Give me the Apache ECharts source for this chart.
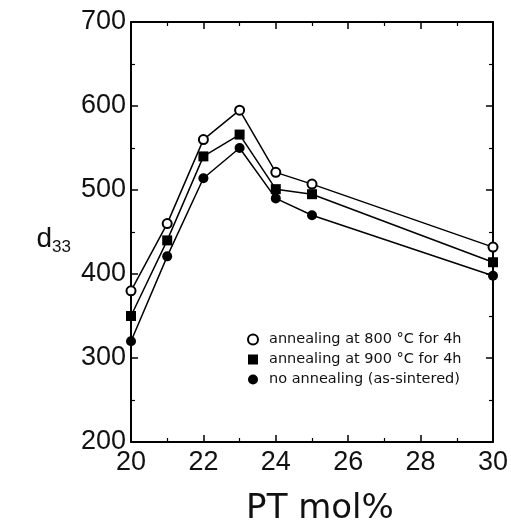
<!DOCTYPE html>
<html lang="en">
<head>
    <meta charset="UTF-8">
    <title>d33 vs PT mol%</title>
    <script src="https://cdn.jsdelivr.net/npm/echarts/dist/echarts.min.js"></script>
    <style>
        body { margin: 0; padding: 0; background: #fff; }
        #chart { width: 511px; height: 526px; }
    </style>
</head>
<body>
<div id="chart"></div>
<script>
    // PT content (mol%)
    var ptMol = [20, 21, 22, 23, 24, 25, 30];
    // d33 values
    var anneal800 = [380, 460, 560, 595, 521, 507, 432];
    var anneal900 = [350, 440, 540, 566, 501, 495, 414];
    var asSintered = [320, 421, 514, 550, 490, 470, 398];
    var seriesNames = ['annealing at 800 °C for 4h', 'annealing at 900 °C for 4h', 'no annealing (as-sintered)'];

    function pairs(ys) {
        return ptMol.map(function (x, i) { return [x, ys[i]]; });
    }

    var chart = echarts.init(document.getElementById('chart'));

    var labelFont = 'Liberation Sans, Arial, sans-serif';
    var axisCommon = {
        axisLine: { show: true, lineStyle: { color: '#000', width: 2 } },
        axisTick: { show: true, inside: true, length: 7, lineStyle: { color: '#000', width: 1.5 } },
        minorTick: { show: true, splitNumber: 2, length: 4, lineStyle: { color: '#000', width: 1.2 } },
        splitLine: { show: false }
    };

    var option = {
        animation: false,
        grid: { left: 131, right: 18, top: 22, bottom: 84, containLabel: false, outerBoundsMode: 'none' },
        legend: {
            orient: 'vertical',
            left: 242,
            top: 327,
            itemWidth: 10,
            itemHeight: 10,
            itemGap: 5,
            textStyle: { fontSize: 14.5, color: '#111', fontFamily: 'DejaVu Sans, sans-serif', padding: [0, 0, 0, 6] },
            data: [
                { name: seriesNames[0], icon: 'emptyCircle' },
                { name: seriesNames[1], icon: 'rect' },
                { name: seriesNames[2], icon: 'circle' }
            ]
        },
        xAxis: [
            Object.assign({
                type: 'value', min: 20, max: 30, interval: 2,
                name: 'PT mol%', nameLocation: 'middle', nameGap: 50,
                nameTextStyle: { fontSize: 34, color: '#111', fontFamily: 'DejaVu Sans, sans-serif', padding: [0, 0, 0, 16] },
                axisLabel: { fontSize: 27, color: '#111', margin: 7, fontFamily: labelFont }
            }, axisCommon),
            Object.assign({
                type: 'value', min: 20, max: 30, interval: 2, position: 'top',
                axisLabel: { show: false }
            }, axisCommon)
        ],
        yAxis: [
            Object.assign({
                type: 'value', min: 200, max: 700, interval: 100,
                name: '{d|d}{s|33}', nameLocation: 'middle', nameRotate: 0, nameGap: 60,
                nameTextStyle: {
                    padding: [14, 0, 0, 0],
                    rich: {
                        d: { fontSize: 28, color: '#111', fontFamily: labelFont },
                        s: { fontSize: 17, color: '#111', fontFamily: labelFont, padding: [16, 0, 0, 0] }
                    }
                },
                axisLabel: { fontSize: 27, color: '#111', margin: 5, fontFamily: labelFont }
            }, axisCommon),
            Object.assign({
                type: 'value', min: 200, max: 700, interval: 100, position: 'right',
                axisLabel: { show: false }
            }, axisCommon)
        ],
        series: [
            {
                name: seriesNames[0], type: 'line', data: pairs(anneal800),
                symbol: 'emptyCircle', symbolSize: 9,
                lineStyle: { color: '#000', width: 1.5 },
                itemStyle: { color: '#000', borderWidth: 1.5 }
            },
            {
                name: seriesNames[1], type: 'line', data: pairs(anneal900),
                symbol: 'rect', symbolSize: 10,
                lineStyle: { color: '#000', width: 1.5 },
                itemStyle: { color: '#000' }
            },
            {
                name: seriesNames[2], type: 'line', data: pairs(asSintered),
                symbol: 'circle', symbolSize: 10,
                lineStyle: { color: '#000', width: 1.5 },
                itemStyle: { color: '#000' }
            }
        ]
    };

    chart.setOption(option);
</script>
</body>
</html>
